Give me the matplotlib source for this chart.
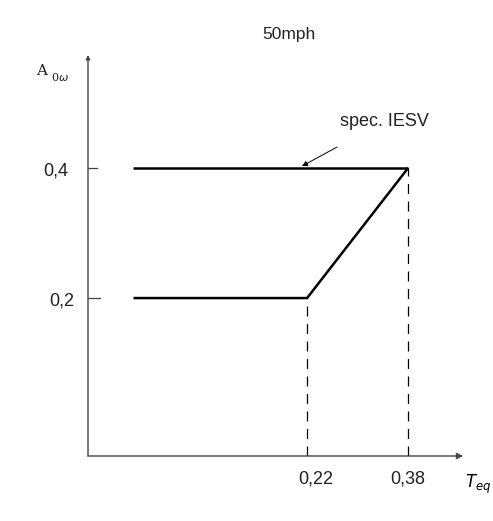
import matplotlib
matplotlib.use("Agg")
import matplotlib.pyplot as plt

# ------------------------------------------------------------
# Data
# ------------------------------------------------------------
x_start = -0.055
t_low = 0.22          # knee of the lower branch
t_high = 0.38         # end of the spec line
a_low = 0.2
a_high = 0.4

spec_x = [x_start, t_high]
spec_y = [a_high, a_high]
curve_x = [x_start, t_low, t_high]
curve_y = [a_low, a_low, a_high]

xticks = [t_low, t_high]
xtick_labels = ["0,22", "0,38"]
yticks = [a_low, a_high]
ytick_labels = ["0,2", "0,4"]

W, H = 493, 521
fig = plt.figure(figsize=(W / 100, H / 100), dpi=100)

# axes box in pixel coords: left 88, right 463, top 55, bottom 456
ax = fig.add_axes([88 / W, (H - 456) / H, (463 - 88) / W, (456 - 55) / H])
x0, x1 = -0.127, 0.467
y0, y1 = -0.043, 0.574
ax.set_xlim(x0, x1)
ax.set_ylim(y0, y1)
ax.axis("off")

fam = "Liberation Sans"
axc = "#444444"

# axes with arrow heads
arr = dict(arrowstyle="-|>", color=axc, lw=1.0, shrinkA=0, shrinkB=0,
           mutation_scale=9)
ax.annotate("", xy=(1, 0), xytext=(0, 0), xycoords="axes fraction",
            arrowprops=arr)
ax.annotate("", xy=(0, 1), xytext=(0, 0), xycoords="axes fraction",
            arrowprops=dict(arr, mutation_scale=6))

# curves
ax.plot(spec_x, spec_y, color="black", lw=1.8, solid_capstyle="butt")
ax.plot(curve_x, curve_y, color="black", lw=1.8, solid_joinstyle="miter",
        solid_capstyle="butt")

# dashed drop lines
dash = (0, (8, 6))
ax.plot([t_low, t_low], [y0, a_low], color="black", lw=0.9, ls=dash)
ax.plot([t_high, t_high], [y0, a_high], color="black", lw=0.9, ls=dash)

# y ticks (short inward dashes)
tick_len = [0.019, 0.015]
for yt, tl in zip(yticks, tick_len):
    ax.plot([x0, x0 + tl], [yt, yt], color=axc, lw=0.9)

# tick labels
for yt, lab, dx in zip(yticks, ytick_labels, [-0.041, -0.051]):
    ax.text(x0 + dx, yt - 0.004, lab, ha="center", va="center",
            fontsize=13, family=fam, color="#222222")
for xt, lab, dx in zip(xticks, xtick_labels, [0.014, 0.0]):
    ax.text(xt + dx, y0 - 0.035, lab, ha="center", va="center",
            fontsize=13, family=fam, color="#222222")

# labels
fig.text(289 / W, 1 - 34 / H, "50mph", ha="center", va="center",
         fontsize=12.5, family=fam, color="#222222")
fig.text(42 / W, 1 - 71 / H, "A", ha="center", va="center",
         fontsize=11, family="DejaVu Serif", color="#222222")
fig.text(60 / W, 1 - 77 / H, r"0$\omega$", ha="center", va="center",
         fontsize=8, family="DejaVu Serif", color="#222222")
fig.text(478 / W, 1 - 484 / H, r"$T_{eq}$", ha="center", va="center",
         fontsize=12, family="DejaVu Serif")

# spec annotation
ax.text(0.342, 0.471, "spec. IESV", ha="center", va="center",
        fontsize=13, family=fam, color="#222222")
ax.annotate("", xy=(0.212, a_high + 0.003), xytext=(0.2675, 0.4324),
            arrowprops=dict(arrowstyle="-|>", color="black", lw=0.7,
                            shrinkA=0, shrinkB=0, mutation_scale=8))

fig.savefig("out.png", dpi=100, facecolor="white")
